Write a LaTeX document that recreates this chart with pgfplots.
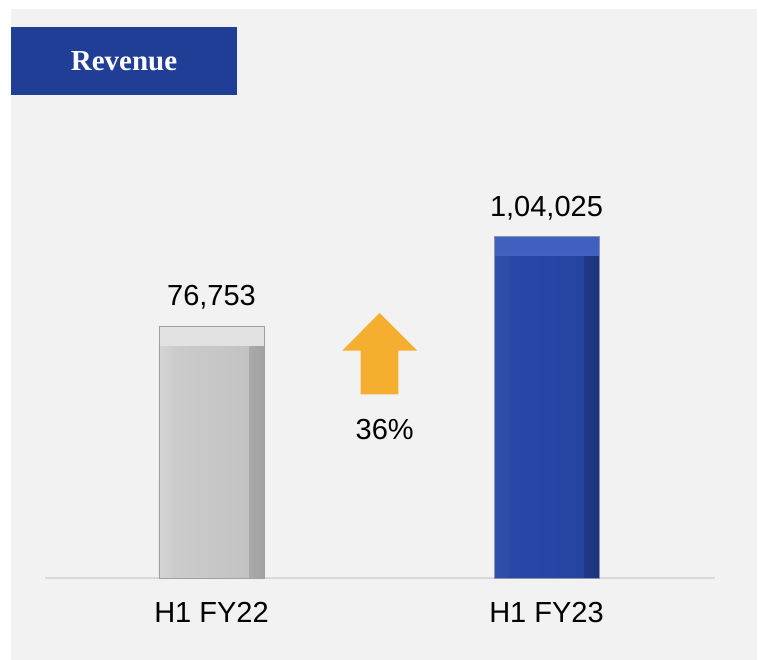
\documentclass[border=0pt]{standalone}
\usepackage{fontspec}
\setmainfont{Liberation Sans}
\newfontfamily\revfont{Liberation Serif}
\usepackage{pgfplots}
\pgfplotsset{compat=1.18}
\definecolor{bg}{HTML}{F2F2F2}
\definecolor{revblue}{HTML}{213E97}
\definecolor{axisgray}{HTML}{D9D9D9}
\definecolor{arroworange}{HTML}{F5AE2F}
\definecolor{gtop}{HTML}{E2E2E2}
\definecolor{gtopB}{HTML}{D6D6D6}
\definecolor{gleft}{HTML}{D4D4D4}
\definecolor{gright}{HTML}{A2A2A2}
\definecolor{gface}{HTML}{CBCBCB}
\definecolor{gfaceR}{HTML}{C3C3C3}
\definecolor{gborder}{HTML}{A0A0A0}
\definecolor{btop}{HTML}{3F60BE}
\definecolor{btopB}{HTML}{4C6DCA}
\definecolor{bleft}{HTML}{3050AE}
\definecolor{bright}{HTML}{1D347C}
\definecolor{bface}{HTML}{2748A6}
\definecolor{bfaceR}{HTML}{2444A2}
\definecolor{bborder}{HTML}{8A93B0}
\begin{document}
\begin{tikzpicture}[x=1pt,y=1pt]
\useasboundingbox (0,0) rectangle (759,660);
\fill[white] (0,0) rectangle (759,660);
\fill[bg] (11,0) rectangle (757,651);
\fill[revblue] (11,565.3) rectangle (237,633);
\node[anchor=base, inner sep=0pt, text=white, font=\revfont\bfseries\fontsize{29}{29}\selectfont] at (124,589) {Revenue};
% arrow
\fill[arroworange] (379.5,347) -- (417.3,309.3) -- (398.3,309.3) -- (398.3,265.7) -- (360.7,265.7) -- (360.7,309.3) -- (342.3,309.3) -- cycle;
\node[anchor=base, inner sep=0pt, font=\fontsize{29}{29}\selectfont] at (384.7,220.7) {36\%};
\begin{axis}[
  at={(45pt,82pt)}, anchor=south west,
  scale only axis, width=670pt, height=459.5pt,
  xmin=-0.497, xmax=1.503, ymin=0, ymax=140000,
  clip=false,
  axis y line=none,
  axis x line*=bottom,
  x axis line style={draw=axisgray, line width=2pt, -},
  xtick={0,1}, xticklabels={H1 FY22,H1 FY23},
  major tick length=0pt, xtick style={draw=none},
  xticklabel style={anchor=base, inner sep=0pt, yshift=-44.7pt, font=\fontsize{29}{29}\selectfont, text=black},
  every node near coord/.append style={anchor=south, inner sep=0pt, text depth=0pt, yshift=20pt, font=\fontsize{29}{29}\selectfont, text=black},
]
% gray bar
\addplot[ybar, bar shift=0pt, bar width=105pt, top color=gtop, bottom color=gtopB, draw=none,
  nodes near coords, point meta=explicit symbolic] coordinates {(0,76753) [76{,}753]};
\addplot[ybar, bar shift=0pt, bar width=105pt, left color=gleft, right color=gright, draw=none] coordinates {(0,70659)};
\addplot[ybar, bar shift=0pt, bar width=75pt, left color=gface, right color=gfaceR, draw=none] coordinates {(0,70659)};
\addplot[ybar, bar shift=0pt, bar width=105pt, fill=none, draw=gborder, line width=0.8pt] coordinates {(0,76753)};
% blue bar
\addplot[ybar, bar shift=0pt, bar width=105pt, top color=btop, bottom color=btopB, draw=none,
  nodes near coords, point meta=explicit symbolic] coordinates {(1,104025) [1{,}04{,}025]};
\addplot[ybar, bar shift=0pt, bar width=105pt, left color=bleft, right color=bright, draw=none] coordinates {(1,97931)};
\addplot[ybar, bar shift=0pt, bar width=75pt, left color=bface, right color=bfaceR, draw=none] coordinates {(1,97931)};
\addplot[ybar, bar shift=0pt, bar width=105pt, fill=none, draw=bborder, line width=0.8pt] coordinates {(1,104025)};
\end{axis}
\end{tikzpicture}
\end{document}
